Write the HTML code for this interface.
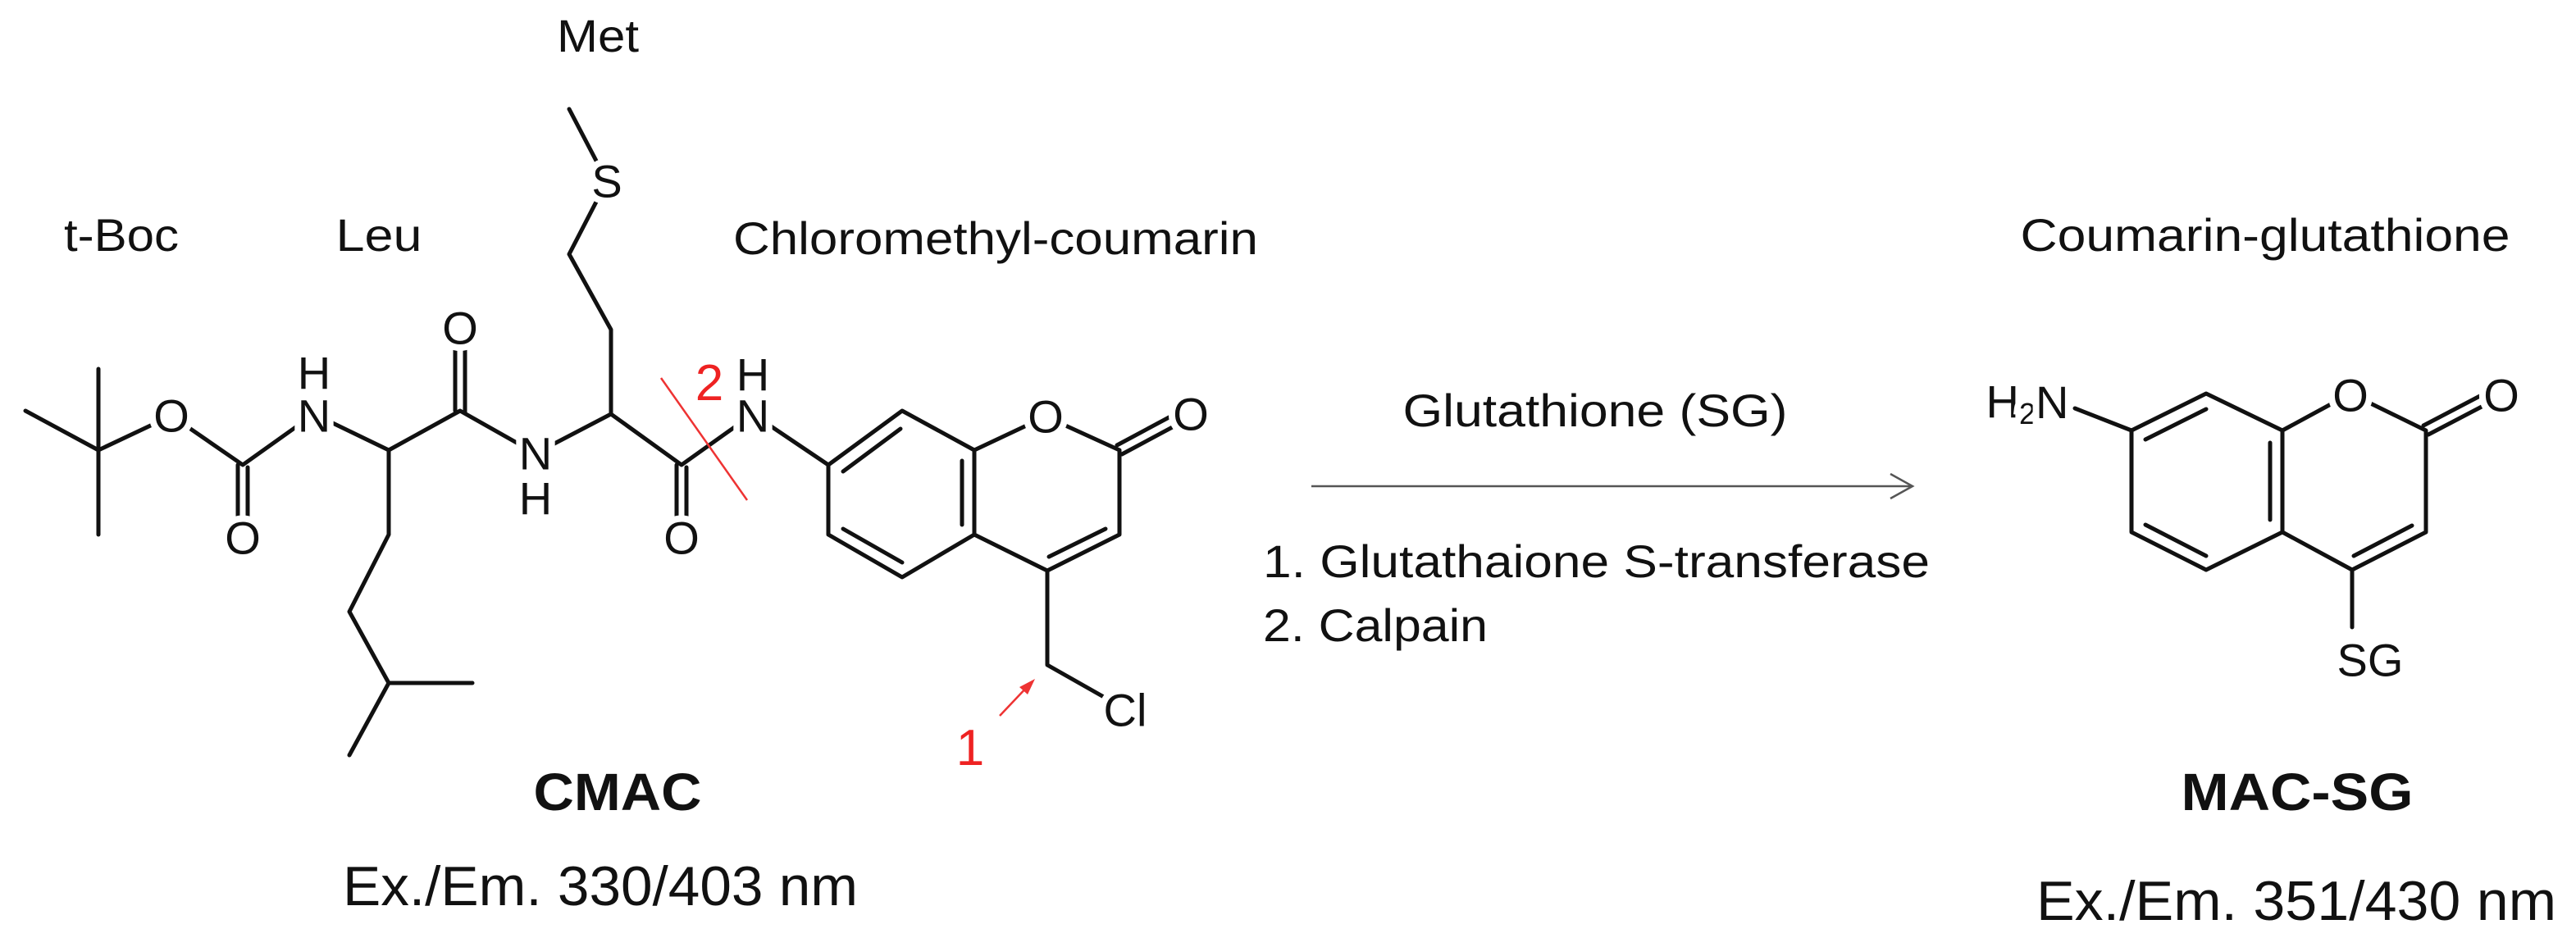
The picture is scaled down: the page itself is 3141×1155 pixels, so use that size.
<!DOCTYPE html>
<html><head><meta charset="utf-8"><style>
html,body{margin:0;padding:0;background:#fff;}
svg{display:block;}
text{font-family:"Liberation Sans",sans-serif;fill:#111;}
.a{font-size:56px;text-anchor:middle;dominant-baseline:central;stroke:#fff;stroke-width:16px;paint-order:stroke;}
.l{font-size:56px;text-anchor:middle;}
</style></head><body>
<svg width="3141" height="1155" viewBox="0 0 3141 1155" xmlns="http://www.w3.org/2000/svg">
<g stroke="#111" stroke-width="5" fill="none" stroke-linecap="round" stroke-linejoin="round">
<line x1="31" y1="501" x2="120" y2="549"/>
<line x1="120" y1="450" x2="120" y2="652"/>
<polyline points="120,549 209,507 296,567 383,505 474,549 561,501 653,553 745,505 831,567 918,505 1010,567"/>
<line x1="290" y1="567" x2="290" y2="632"/><line x1="302" y1="570" x2="302" y2="632"/>
<polyline points="474,549 474,652 426,746 474,833 576,833"/>
<line x1="474" y1="833" x2="426" y2="921"/>
<line x1="555" y1="501" x2="555" y2="425"/><line x1="567" y1="504" x2="567" y2="425"/>
<polyline points="745,505 745,402 694,310 740,221 694,133"/>
<line x1="825" y1="567" x2="825" y2="632"/><line x1="837" y1="570" x2="837" y2="632"/>
<polygon points="1010,567 1100,501 1188,549 1275,508 1365,549 1365,652 1277,696 1188,652 1100,704 1010,652"/>
<line x1="1188" y1="549" x2="1188" y2="652"/>
<line x1="1028" y1="575" x2="1098" y2="523"/>
<line x1="1173" y1="562" x2="1173" y2="640"/>
<line x1="1100" y1="686" x2="1028" y2="645"/>
<line x1="1348" y1="645" x2="1279" y2="679"/>
<line x1="1368" y1="554" x2="1450" y2="510"/><line x1="1362" y1="543" x2="1444" y2="499"/>
<polyline points="1277,696 1277,811 1367,862"/>
<polygon points="2599,525 2690,480 2783,525 2866,480 2958,525 2958,649 2868,695 2783,649 2690,695 2599,649"/>
<line x1="2783" y1="525" x2="2783" y2="649"/>
<line x1="2616" y1="536" x2="2690" y2="499"/>
<line x1="2768" y1="540" x2="2768" y2="634"/>
<line x1="2690" y1="678" x2="2616" y2="640"/>
<line x1="2941" y1="641" x2="2870" y2="678"/>
<line x1="2961" y1="530" x2="3047" y2="485"/><line x1="2955" y1="519" x2="3041" y2="474"/>
<line x1="2530" y1="498" x2="2599" y2="525"/>
<line x1="2868" y1="695" x2="2868" y2="765"/>
</g>
<g fill="#fff">
<circle cx="209" cy="507" r="24"/><circle cx="296" cy="656" r="24"/><circle cx="383" cy="507" r="24"/>
<circle cx="561" cy="400" r="24"/><circle cx="653" cy="553" r="24"/><circle cx="740" cy="221" r="24"/>
<circle cx="831" cy="656" r="24"/><circle cx="918" cy="507" r="24"/><circle cx="1275" cy="508" r="24"/>
<circle cx="1452" cy="505" r="24"/><circle cx="1372" cy="866" r="28"/><circle cx="2866" cy="482" r="24"/>
<circle cx="3050" cy="482" r="24"/><circle cx="2890" cy="805" r="30"/>
</g>
<g stroke="#555" stroke-width="2.5" fill="none">
<line x1="1599" y1="593" x2="2330" y2="593"/>
<polyline points="2305,578 2332,593 2305,608"/>
</g>
<g stroke="#e33" stroke-width="2.5" fill="none">
<line x1="806" y1="461" x2="911" y2="610"/>
<line x1="1219" y1="873" x2="1255" y2="835"/>
</g>
<polygon points="1262,828 1243,838 1253,847" fill="#e33"/>
<text x="865" y="488" style="font-size:62px;fill:#e22;text-anchor:middle;font-family:'Liberation Sans',sans-serif">2</text>
<text x="1183" y="933" style="font-size:62px;fill:#e22;text-anchor:middle;font-family:'Liberation Sans',sans-serif">1</text>
<text class="a" x="209" y="507">O</text>
<text class="a" x="296" y="656">O</text>
<text class="a" x="383" y="507">N</text>
<text class="a" x="383" y="455">H</text>
<text class="a" x="561" y="400">O</text>
<text class="a" x="653" y="553">N</text>
<text class="a" x="653" y="608">H</text>
<text class="a" x="740" y="221">S</text>
<text class="a" x="831" y="656">O</text>
<text class="a" x="918" y="507">N</text>
<text class="a" x="918" y="457">H</text>
<text class="a" x="1275" y="508">O</text>
<text class="a" x="1452" y="505">O</text>
<text class="a" x="1372" y="866">Cl</text>
<text class="a" x="2866" y="482">O</text>
<text class="a" x="3050" y="482">O</text>
<text class="a" x="2472" y="490">H<tspan font-size="36" dy="14">2</tspan><tspan dy="-14">N</tspan></text>
<text class="a" x="2890" y="805">SG</text>
<text class="l" x="148" y="306" textLength="140" lengthAdjust="spacingAndGlyphs">t-Boc</text>
<text class="l" x="462" y="306" textLength="105" lengthAdjust="spacingAndGlyphs">Leu</text>
<text class="l" x="729" y="63" textLength="100" lengthAdjust="spacingAndGlyphs">Met</text>
<text class="l" x="1214" y="310" textLength="640" lengthAdjust="spacingAndGlyphs">Chloromethyl-coumarin</text>
<text x="753" y="988" style="font-size:64px;font-weight:bold;text-anchor:middle" textLength="205" lengthAdjust="spacingAndGlyphs">CMAC</text>
<text x="732" y="1104" style="font-size:68px;text-anchor:middle" textLength="628" lengthAdjust="spacingAndGlyphs">Ex./Em. 330/403 nm</text>
<text class="l" x="1945" y="520" textLength="469" lengthAdjust="spacingAndGlyphs">Glutathione (SG)</text>
<text x="1540" y="704" style="font-size:56px" textLength="813" lengthAdjust="spacingAndGlyphs">1. Glutathaione S-transferase</text>
<text x="1540" y="782" style="font-size:56px" textLength="274" lengthAdjust="spacingAndGlyphs">2. Calpain</text>
<text class="l" x="2762" y="306" textLength="597" lengthAdjust="spacingAndGlyphs">Coumarin-glutathione</text>
<text x="2801" y="988" style="font-size:64px;font-weight:bold;text-anchor:middle" textLength="283" lengthAdjust="spacingAndGlyphs">MAC-SG</text>
<text x="2800" y="1122" style="font-size:68px;text-anchor:middle" textLength="634" lengthAdjust="spacingAndGlyphs">Ex./Em. 351/430 nm</text>
</svg>
</body></html>
